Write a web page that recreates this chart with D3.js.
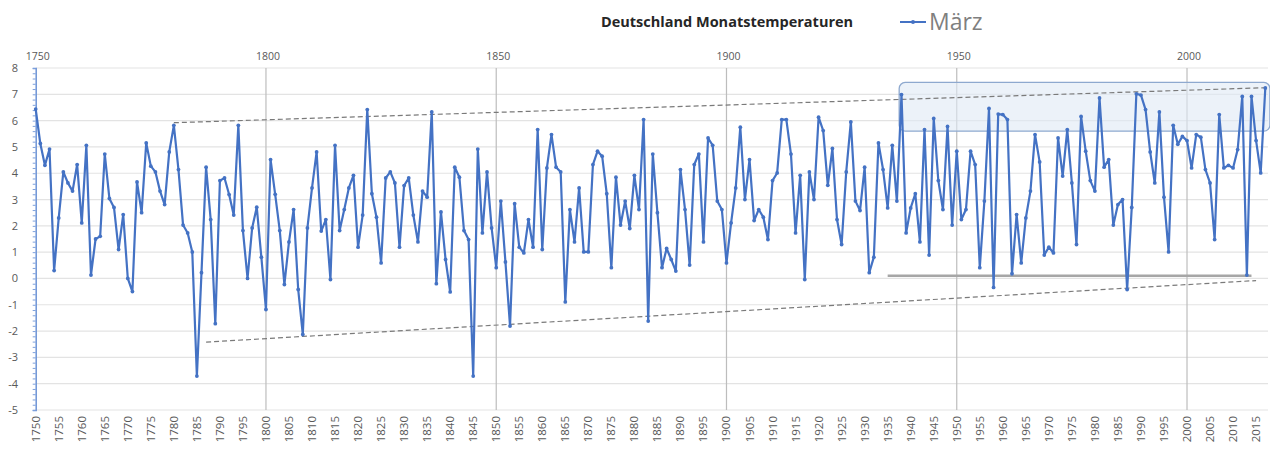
<!DOCTYPE html>
<html lang="de">
<head>
<meta charset="UTF-8">
<script src="https://d3js.org/d3.v7.min.js"></script>
<title>Deutschland Monatstemperaturen März</title>
<style>
  body { margin: 0; background: #fff; }
  text { font-family: "Open Sans", "DejaVu Sans", sans-serif; }
</style>
</head>
<body>
<svg id="chart" width="1270" height="450"></svg>
<script>
// years and March mean temperatures (°C)
var firstYear = 1750;
var temps = [
  6.44, 5.13, 4.30, 4.92, 0.30, 2.30, 4.05, 3.63, 3.32, 4.33,   // 1750
  2.11, 5.06, 0.13, 1.50, 1.60, 4.73, 3.04, 2.70, 1.10, 2.43,   // 1760
  0.00, -0.50, 3.67, 2.50, 5.15, 4.27, 4.05, 3.32, 2.81, 4.81,  // 1770
  5.82, 4.14, 2.03, 1.73, 1.01, -3.71, 0.22, 4.23, 2.24, -1.72, // 1780
  3.72, 3.82, 3.19, 2.41, 5.82, 1.82, 0.00, 1.92, 2.71, 0.81,   // 1790
  -1.18, 4.52, 3.20, 1.82, -0.23, 1.39, 2.62, -0.42, -2.13, 1.92, // 1800
  3.44, 4.81, 1.80, 2.24, -0.04, 5.06, 1.82, 2.62, 3.44, 3.92,  // 1810
  1.19, 2.41, 6.42, 3.22, 2.33, 0.59, 3.82, 4.05, 3.63, 1.19,   // 1820
  3.53, 3.82, 2.41, 1.39, 3.32, 3.09, 6.33, -0.20, 2.53, 0.72,  // 1830
  -0.51, 4.23, 3.85, 1.82, 1.48, -3.71, 4.92, 1.73, 4.05, 1.92, // 1840
  0.41, 2.94, 0.63, -1.81, 2.84, 1.19, 0.97, 2.24, 1.19, 5.66,  // 1850
  1.10, 4.20, 5.47, 4.23, 4.05, -0.89, 2.62, 1.39, 3.44, 1.01,  // 1860
  1.01, 4.33, 4.84, 4.65, 3.22, 0.41, 3.85, 2.03, 2.94, 1.90,   // 1870
  3.92, 2.62, 6.04, -1.62, 4.73, 2.50, 0.41, 1.14, 0.72, 0.28,  // 1880
  4.14, 2.62, 0.51, 4.33, 4.73, 1.39, 5.34, 5.06, 2.94, 2.62,   // 1890
  0.59, 2.11, 3.44, 5.75, 3.00, 4.52, 2.20, 2.62, 2.33, 1.48,   // 1900
  3.72, 4.01, 6.04, 6.04, 4.73, 1.73, 3.92, -0.04, 4.05, 3.00,  // 1910
  6.13, 5.62, 3.54, 4.94, 2.24, 1.29, 4.05, 5.95, 2.94, 2.58,   // 1920
  4.23, 0.22, 0.81, 5.15, 4.14, 2.68, 5.06, 2.94, 6.99, 1.73,   // 1930
  2.68, 3.22, 1.39, 5.66, 0.89, 6.08, 3.72, 2.62, 5.78, 2.03,   // 1940
  4.84, 2.24, 2.62, 4.84, 4.33, 0.41, 2.94, 6.46, -0.34, 6.25,  // 1950
  6.23, 6.04, 0.18, 2.43, 0.59, 2.30, 3.32, 5.47, 4.43, 0.89,   // 1960
  1.19, 0.97, 5.34, 3.89, 5.66, 3.63, 1.29, 6.16, 4.84, 3.72,   // 1970
  3.32, 6.86, 4.23, 4.52, 2.03, 2.81, 3.00, -0.42, 2.70, 7.02,  // 1980
  6.97, 6.42, 4.81, 3.63, 6.33, 3.09, 1.01, 5.82, 5.10, 5.40,   // 1990
  5.24, 4.20, 5.47, 5.37, 4.14, 3.63, 1.48, 6.23, 4.20, 4.30,   // 2000
  4.20, 4.90, 6.92, 0.13, 6.92, 5.24, 4.01, 7.24                // 2010
];
var years = temps.map(function(d, i) { return firstYear + i; });

var yTicks = [-5, -4, -3, -2, -1, 0, 1, 2, 3, 4, 5, 6, 7, 8];
var topYearLabels = [1750, 1800, 1850, 1900, 1950, 2000];
var gridYears = [1800, 1850, 1900, 1950, 2000];
var bottomYearLabels = d3.range(1750, 2016, 5);

// hand drawn annotations: dashed envelope, zero-ish line, highlight box
var upperTrend = [[1780, 5.92], [2017, 7.25]];
var lowerTrend = [[1787, -2.42], [2015, -0.08]];
var baseLine = [[1935, 0.1], [2014, 0.1]];
var highlightBox = { from: 1937.5, to: 2018, top: 7.45, bottom: 5.6 };

var svg = d3.select("#chart");

var x = d3.scaleLinear().domain([1750, 2017]).range([35.7, 1265.3]);
var y = d3.scaleLinear().domain([-5, 8]).range([410, 68]);

var blue = "#4472c4";

// horizontal gridlines
svg.append("g")
  .selectAll("line")
  .data(yTicks)
  .enter()
  .append("line")
    .attr("x1", x(1750))
    .attr("x2", 1268)
    .attr("y1", function(d) { return y(d); })
    .attr("y2", function(d) { return y(d); })
    .attr("stroke", "#e3e3e3")
    .attr("stroke-width", 1.2);

// vertical gridlines every 50 years
svg.append("g")
  .selectAll("line")
  .data(gridYears)
  .enter()
  .append("line")
    .attr("x1", function(d) { return x(d); })
    .attr("x2", function(d) { return x(d); })
    .attr("y1", y(8))
    .attr("y2", y(-5))
    .attr("stroke", "#bdbdbd")
    .attr("stroke-width", 1.2);

// highlight box over the recent warm years
svg.append("rect")
  .attr("x", x(highlightBox.from))
  .attr("y", y(highlightBox.top))
  .attr("width", x(highlightBox.to) - x(highlightBox.from))
  .attr("height", y(highlightBox.bottom) - y(highlightBox.top))
  .attr("rx", 6)
  .attr("fill", "#dfe9f5")
  .attr("fill-opacity", 0.6)
  .attr("stroke", "#8ea9cf")
  .attr("stroke-width", 1.3);

// left axis with minor ticks (Excel style)
var yAxis = d3.axisLeft(y)
  .tickValues(d3.range(-5, 8.01, 0.2))
  .tickSize(3)
  .tickFormat("");
var yAxisG = svg.append("g")
  .attr("transform", "translate(" + x(1750) + ",0)")
  .call(yAxis);
yAxisG.selectAll("path, line").attr("stroke", "#7ea1dc");
yAxisG.select(".domain").attr("stroke", "#6f94d6").attr("stroke-width", 1.5);

svg.append("g")
  .selectAll("text")
  .data(yTicks)
  .enter()
  .append("text")
    .attr("x", 18)
    .attr("y", function(d) { return y(d) + 4; })
    .attr("text-anchor", "end")
    .attr("font-size", 11)
    .attr("fill", "#595959")
    .text(function(d) { return d; });

// top year labels
svg.append("g")
  .selectAll("text")
  .data(topYearLabels)
  .enter()
  .append("text")
    .attr("x", function(d) { return x(d) + 2; })
    .attr("y", 60)
    .attr("text-anchor", "middle")
    .attr("font-size", 10.5)
    .attr("fill", "#595959")
    .text(function(d) { return d; });

// bottom rotated year labels
svg.append("g")
  .selectAll("text")
  .data(bottomYearLabels)
  .enter()
  .append("text")
    .attr("transform", function(d) { return "translate(" + (x(d) + 4) + ",416) rotate(-90)"; })
    .attr("text-anchor", "end")
    .attr("font-size", 11.5)
    .attr("fill", "#595959")
    .text(function(d) { return d; });

// dashed envelope lines
var trendLine = d3.line()
  .x(function(d) { return x(d[0]); })
  .y(function(d) { return y(d[1]); });

[upperTrend, lowerTrend].forEach(function(t) {
  svg.append("path")
    .attr("d", trendLine(t))
    .attr("fill", "none")
    .attr("stroke", "#7a7a7a")
    .attr("stroke-width", 1.2)
    .attr("stroke-dasharray", "5,3");
});

svg.append("path")
  .attr("d", trendLine(baseLine))
  .attr("fill", "none")
  .attr("stroke", "#a6a6a6")
  .attr("stroke-width", 2.5);

// temperature series
var line = d3.line()
  .x(function(d, i) { return x(years[i]); })
  .y(function(d) { return y(d); });

svg.append("path")
  .datum(temps)
  .attr("d", line)
  .attr("fill", "none")
  .attr("stroke", blue)
  .attr("stroke-width", 2.2)
  .attr("stroke-linejoin", "round");

svg.append("g")
  .selectAll("circle")
  .data(temps)
  .enter()
  .append("circle")
    .attr("cx", function(d, i) { return x(years[i]); })
    .attr("cy", function(d) { return y(d); })
    .attr("r", 1.9)
    .attr("fill", blue);

// title and legend
svg.append("text")
  .attr("x", 601)
  .attr("y", 27)
  .attr("font-size", 14.5)
  .attr("font-weight", "bold")
  .attr("fill", "#262626")
  .text("Deutschland Monatstemperaturen");

svg.append("line")
  .attr("x1", 900).attr("x2", 926)
  .attr("y1", 22).attr("y2", 22)
  .attr("stroke", blue)
  .attr("stroke-width", 2);
svg.append("circle")
  .attr("cx", 913).attr("cy", 22).attr("r", 2)
  .attr("fill", blue);
svg.append("text")
  .attr("x", 929)
  .attr("y", 30)
  .attr("font-size", 23)
  .attr("fill", "#7f7f7f")
  .text("März");
</script>
</body>
</html>
